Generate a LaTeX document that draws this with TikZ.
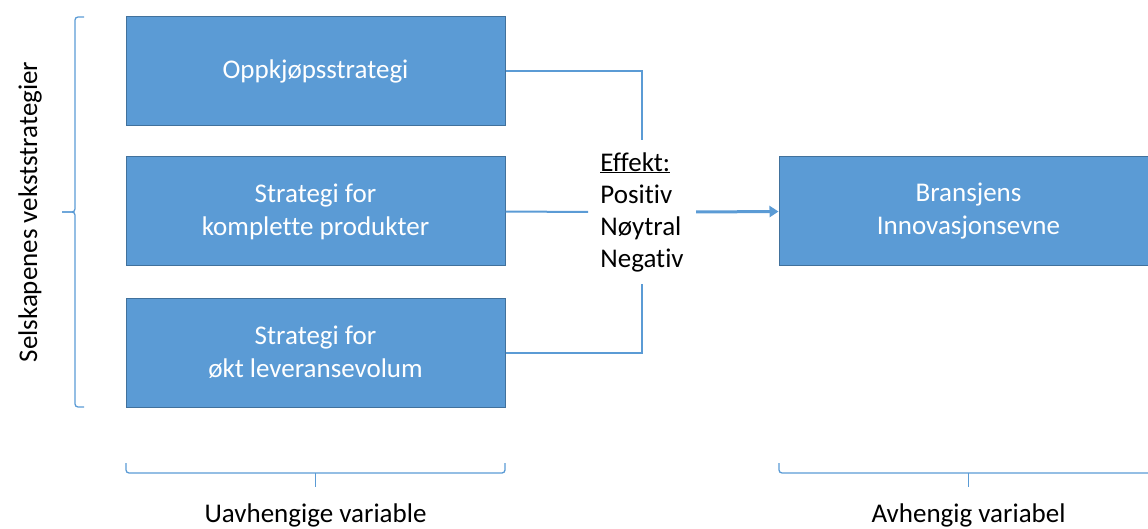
\documentclass[tikz,border=0pt]{standalone}
\usepackage{fontspec}
\setmainfont{Carlito}[Ligatures={NoCommon}]
\usetikzlibrary{arrows.meta}
\definecolor{boxfill}{HTML}{5B9BD5}
\definecolor{boxline}{HTML}{41719C}
\definecolor{linecol}{HTML}{5B9BD5}
\begin{document}
\begin{tikzpicture}[x=1pt,y=-1pt,
  bluebox/.style={draw=boxline,line width=1pt,fill=boxfill,text=white,minimum width=379pt,minimum height=109pt,align=center,inner sep=0pt,font=\fontsize{27}{33}\selectfont},
  conn/.style={draw=linecol,line width=2pt},
  bracestyle/.style={draw=linecol,line width=1.3pt,rounded corners=3pt},
  lbl/.style={font=\fontsize{27}{32}\selectfont,inner sep=0pt}]
\useasboundingbox (0,0) rectangle (1148,529);
\node[bluebox] (b1) at (315.5,71.5) {Oppkjøpsstrategi};
\node[bluebox] (b2) at (315.5,211.5) {Strategi for\\komplette produkter};
\node[bluebox] (b3) at (315.5,352.5) {Strategi for\\økt leveransevolum};
\node[bluebox] (r) at (968.5,211.5) {Bransjens\\Innovasjonsevne};
\node[lbl,align=left] (eff) at (642,212) {\underline{Effekt:}\\Positiv\\Nøytral\\Negativ};
\coordinate (c1) at (642,140);
\coordinate (c2) at (588,212);
\coordinate (c3) at (642,284);
\coordinate (c4) at (696,212);
\draw[conn] (b1.east) -| (c1);
\draw[conn] (b2.east) -- (c2);
\draw[conn] (b3.east) -| (c3);
\draw[draw=linecol,line width=3pt,-{Triangle[length=9pt,width=11pt]}] (c4) -- (r.west);
% left brace
\draw[bracestyle] (84,17) -- (75,17) -- (75,212) -- (62,212);
\draw[bracestyle] (62,212) -- (75,212) -- (75,407) -- (84,407);
\node[lbl,rotate=90] (side) at (30,212) {Selskapenes vekststrategier};
% bottom braces
\draw[bracestyle] (126,463) -- (126,473) -- (505,473) -- (505,463);
\draw[bracestyle] (315.5,473) -- (315.5,487);
\draw[bracestyle] (779,463) -- (779,473) -- (1158,473) -- (1158,463);
\draw[bracestyle] (968.5,473) -- (968.5,487);
\node[lbl,anchor=base] (uv) at (315.5,522) {Uavhengige variable};
\node[lbl,anchor=base] (av) at (968.5,522) {Avhengig variabel};
\end{tikzpicture}
\end{document}
